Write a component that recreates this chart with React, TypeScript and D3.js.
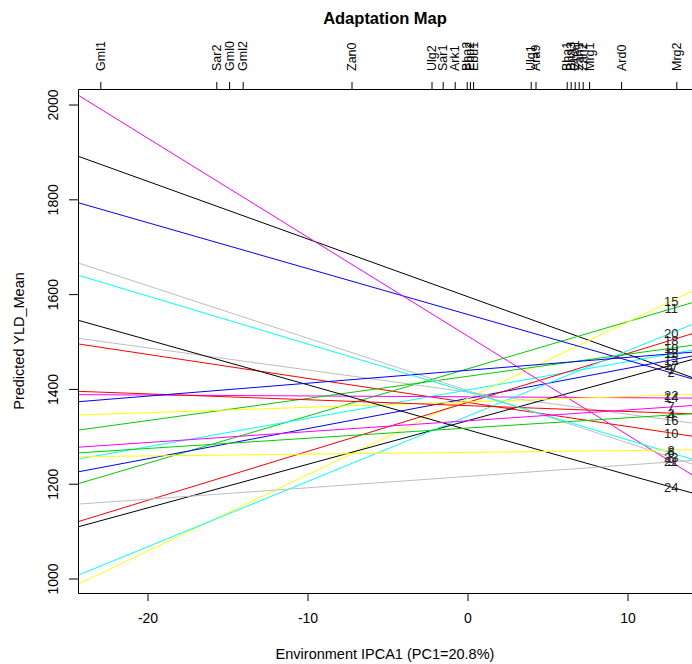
import React from 'react';
import * as d3 from 'd3';

const title = 'Adaptation Map';
const xLabel = 'Environment IPCA1 (PC1=20.8%)';
const yLabel = 'Predicted YLD_Mean';

const xTicks = [-20, -10, 0, 10];
const yTicks = [1000, 1200, 1400, 1600, 1800, 2000];

const envNames = ['Gml1', 'Sar2', 'Gml0', 'Gml2', 'Zan0', 'Ulg2', 'Sar1', 'Ark1', 'Bha2', 'Ebu2', 'Ebu1', 'Ulg1', 'Ara9', 'Bha1', 'Bha3', 'Gha1', 'Zan1', 'Zan2', 'Mrg1', 'Ard0', 'Mrg2'];
const envScores = [-22.95, -15.7, -14.9, -14.05, -7.25, -2.25, -1.55, -0.8, -0.05, 0.15, 0.35, 3.95, 4.25, 6.2, 6.45, 6.7, 6.95, 7.2, 7.6, 9.6, 13.05];

// genotype levels in R factor order (colour = palette index)
const genotypes = ['1', '10', '11', '12', '13', '14', '15', '16', '17', '18', '19', '2', '20', '21', '22', '23', '24', '3', '4', '5', '6', '7', '8', '9'];
// predicted yield at the lowest and highest plotted environment scores
const envLow = -24.375;
const envHigh = 12.7;
const yieldAtLow = [1892, 1496, 1201, 1226, 1253, 1389, 989, 1508, 1110, 1121, 1314, 1794, 1008, 2021, 1346, 1667, 1546, 1396, 1266, 1374, 1641, 1278, 1258, 1158];
const yieldAtHigh = [1441, 1308, 1570, 1462, 1475, 1382, 1586, 1335, 1451, 1504, 1487, 1435, 1519, 1247, 1388, 1257, 1194, 1350, 1346, 1475, 1266, 1363, 1272, 1247];

const palette = ['#000000', '#FF0000', '#00CD00', '#0000FF', '#00FFFF', '#FF00FF', '#FFFF00', '#BEBEBE'];

const W = 692;
const H = 664;
const left = 78;
const right = 692;
const top = 89;
const bottom = 593;
const font = '"Liberation Sans", Arial, sans-serif';

export default function App() {
  const x = d3.scaleLinear().domain([envLow, 14]).range([left, right]);
  const y = d3.scaleLinear().domain([970.5, 2033.8]).range([bottom, top]);
  const line = d3
    .line<[number, number]>()
    .x((d) => x(d[0]))
    .y((d) => y(d[1]));
  const xEnd = x.domain()[1];

  const rows = genotypes.map((g, i) => {
    const slope = (yieldAtHigh[i] - yieldAtLow[i]) / (envHigh - envLow);
    const at = (e: number) => yieldAtLow[i] + slope * (e - envLow);
    return { g, i, at, color: palette[i % palette.length] };
  });

  return (
    <div style={{ position: 'absolute', left: 0, top: 0, width: W, height: H, background: '#fff', overflow: 'hidden' }}>
      <svg width={W} height={H} style={{ display: 'block', fontFamily: font }}>
        <defs>
          <clipPath id="plot">
            <rect x={left} y={top} width={right - left} height={bottom - top} />
          </clipPath>
        </defs>
        <rect width={W} height={H} fill="#fff" />
        <text x={385} y={24} textAnchor="middle" fontWeight="bold" fontSize={16.5}>
          {title}
        </text>
        <g clipPath="url(#plot)">
          {rows.map((r) => (
            <path
              key={r.g}
              d={line([
                [envLow, r.at(envLow)],
                [xEnd, r.at(xEnd)],
              ]) as string}
              stroke={r.color}
              strokeWidth={1}
              fill="none"
            />
          ))}
        </g>
        {rows.map((r) => (
          <text
            key={'l' + r.g}
            x={x(envHigh)}
            y={y(r.at(envHigh))}
            textAnchor="middle"
            dominantBaseline="central"
            fontSize={13}
            fill="#222"
          >
            {r.g}
          </text>
        ))}
        {/* box */}
        <path
          d={`M${right},${top + 0.5}H${left + 0.5}V${bottom + 0.5}H${right}`}
          fill="none"
          stroke="#000"
          strokeWidth={1}
        />
        {/* bottom axis */}
        {xTicks.map((t) => (
          <g key={'x' + t}>
            <line x1={x(t)} x2={x(t)} y1={bottom} y2={bottom + 8} stroke="#000" />
            <text x={x(t)} y={623} textAnchor="middle" fontSize={14}>
              {t}
            </text>
          </g>
        ))}
        {/* left axis */}
        {yTicks.map((t) => (
          <g key={'y' + t}>
            <line x1={left - 9} x2={left} y1={y(t)} y2={y(t)} stroke="#000" />
            <text
              transform={`translate(53,${y(t)}) rotate(-90)`}
              textAnchor="middle"
              dominantBaseline="central"
              fontSize={14}
            >
              {t}
            </text>
          </g>
        ))}
        {/* top axis: environments */}
        {envNames.map((n, i) => (
          <g key={'e' + n}>
            <line x1={x(envScores[i])} x2={x(envScores[i])} y1={top} y2={top - 7} stroke="#000" />
            <text
              transform={`translate(${x(envScores[i])},${top - 18}) rotate(-90)`}
              textAnchor="start"
              dominantBaseline="central"
              fontSize={12.5}
            >
              {n}
            </text>
          </g>
        ))}
        <text x={385} y={659} textAnchor="middle" fontSize={14.5}>
          {xLabel}
        </text>
        <text transform={`translate(19,341) rotate(-90)`} textAnchor="middle" dominantBaseline="central" fontSize={14.5}>
          {yLabel}
        </text>
      </svg>
    </div>
  );
}
